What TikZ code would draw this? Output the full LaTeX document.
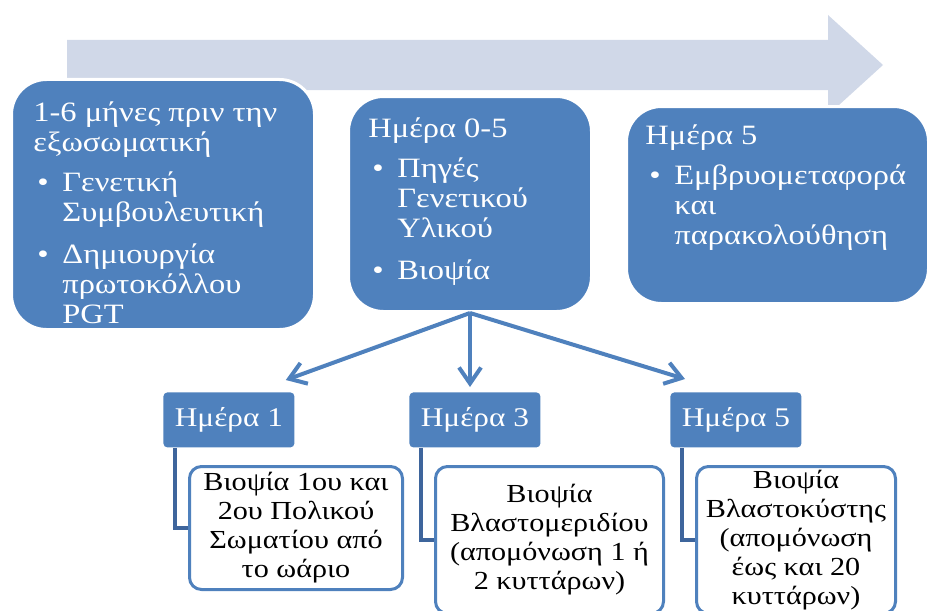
\documentclass[tikz,border=0pt]{standalone}
\usepackage{fontspec}
\setmainfont[FakeStretch=1.16]{Liberation Serif}
\usepackage{xcolor}
\definecolor{pgt_blue}{RGB}{79, 129, 189}
\definecolor{pgt_light}{RGB}{208, 216, 232}
\definecolor{pgt_dark}{RGB}{62, 101, 156}
\usepackage{tikz}
\usetikzlibrary{arrows.meta, positioning, calc}
\newcommand{\bitem}[1]{\hspace*{2pt}\makebox[12.5pt][l]{\textbullet}%
  \begin{tabular}[t]{@{}l@{}}#1\end{tabular}}

\begin{document}
\begin{tikzpicture}[x=0.5pt, y=-0.5pt,
            phase/.style={fill=pgt_blue, draw=white, line width=1.5pt,
                          rounded corners=17.5pt, anchor=north west, inner sep=0pt},
            phasetxt/.style={text=white, align=left, anchor=north west, inner sep=0pt,
                             font=\fontsize{14}{15}\selectfont},
            day/.style={fill=pgt_blue, rounded corners=2pt, anchor=north west,
                        minimum width=65.5pt, minimum height=27.5pt, text=white,
                        font=\fontsize{13.5}{15}\selectfont},
            detail/.style={draw=pgt_blue, fill=white, line width=1.5pt, rounded corners=6pt,
                           anchor=north west, align=center, inner sep=0pt,
                           font=\fontsize{13}{14.5}\selectfont},
            arr/.style={-{Straight Barb[length=8pt, width=11pt]}, line width=2pt, pgt_blue},
            link/.style={line width=2pt, pgt_dark}]
  \useasboundingbox (0,0) rectangle (929,610);
  % timeline arrow
  \fill[pgt_light] (67,40) -- (828,40) -- (828,15) -- (883,65) -- (828,115)
    -- (828,90) -- (67,90) -- cycle;
  % phases
  \node[phase, minimum width=151.5pt, minimum height=125pt] (months) at (10,78) {};
  \node[phase, minimum width=121.5pt, minimum height=107.5pt] (ivf) at (347,95) {};
  \node[phase, minimum width=151pt, minimum height=98.5pt] (transfer) at (625,105) {};
  \node[phasetxt] (monthstxt) at (33,101) {1-6 μήνες πριν την\\εξωσωματική\\[5pt]%
    \bitem{Γενετική\\Συμβουλευτική}\\[5pt]\bitem{Δημιουργία\\πρωτοκόλλου\\PGT}};
  \node[phasetxt] (ivftxt) at (368,117) {Ημέρα 0-5\\[5pt]%
    \bitem{Πηγές\\Γενετικού\\Υλικού}\\[5pt]\bitem{Βιοψία}};
  \node[phasetxt] (transfertxt) at (645,124) {Ημέρα 5\\[5pt]%
    \bitem{Εμβρυομεταφορά\\και\\παρακολούθηση}};
  % biopsy days
  \node[day] (day1) at (163,392) {Ημέρα 1};
  \node[day] (day3) at (409,392) {Ημέρα 3};
  \node[day] (day5) at (670,392) {Ημέρα 5};
  \node[detail, minimum width=106.5pt, minimum height=61.5pt] (polar) at (188,465)
    {Βιοψία 1ου και\\2ου Πολικού\\Σωματίου από\\το ωάριο};
  \node[detail, minimum width=114pt, minimum height=73.5pt] (blastomere) at (434,465)
    {Βιοψία\\Βλαστομεριδίου\\(απομόνωση 1 ή\\2 κυττάρων)};
  \node[detail, minimum width=99.5pt, minimum height=73.5pt] (blastocyst) at (695,465)
    {Βιοψία\\Βλαστοκύστης\\(απομόνωση\\έως και 20\\κυττάρων)};
  % arrows
  \draw[arr] (ivf.south) -- ($(day1.north east)+(-9,-12)$);
  \draw[arr, shorten >=2.5pt] (ivf.south) -- (ivf.south |- day3.north);
  \draw[arr] (ivf.south) -- ($(day5.north west)+(15,-13)$);
  \draw[link] ([xshift=6pt]day1.south west) |- (polar.west);
  \draw[link] ([xshift=6pt]day3.south west) |- (blastomere.west);
  \draw[link] ([xshift=6pt]day5.south west) |- (blastocyst.west);
\end{tikzpicture}
\end{document}
